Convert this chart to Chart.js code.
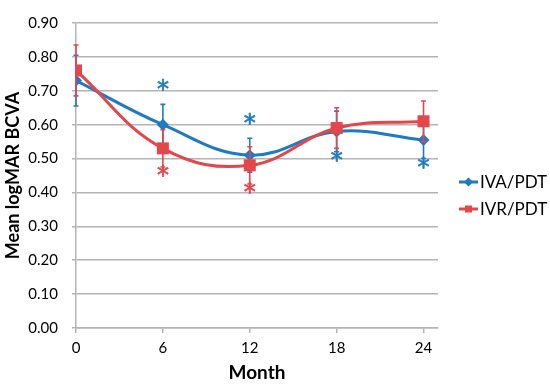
<!DOCTYPE html>
<html><head><meta charset="utf-8">
<script src="https://cdn.jsdelivr.net/npm/chart.js@4"></script>
<style>html,body{margin:0;padding:0;background:#fff}</style>
</head><body>
<canvas id="c" width="550" height="384"></canvas>
<script>
// ---- data ----
const months = [0, 6, 12, 18, 24];
const xTicks = [0, 6, 12, 18, 24];
const yTicks = [0, 0.1, 0.2, 0.3, 0.4, 0.5, 0.6, 0.7, 0.8, 0.9];
const ivaLabel = 'IVA/PDT';
const ivrLabel = 'IVR/PDT';
const ivaMean = [0.73, 0.60, 0.51, 0.58, 0.555];
const ivaErr  = [0.075, 0.06, 0.05, 0.06, 0.055];
const ivrMean = [0.76, 0.53, 0.48, 0.59, 0.61];
const ivrErr  = [0.075, 0.055, 0.055, 0.06, 0.06];
const ivaStar = ['', 'above', 'above', 'below', 'below'];
const ivrStar = ['', 'below', 'below', '', ''];

const BLUE = '#1e7bc1';
const RED = '#e2474b';
const GRID = '#b4b4b4';
const FONT = 'Lato';

const errs = [ivaErr, ivrErr];
const stars = [ivaStar, ivrStar];

const errorBars = {
  id: 'errorBars',
  beforeDatasetDraw(chart, args) {
    const i = args.index;
    const ds = chart.data.datasets[i];
    const x = chart.scales.x, y = chart.scales.y;
    const ctx = chart.ctx;
    ctx.save();
    ctx.strokeStyle = ds.borderColor;
    ctx.lineWidth = 1.6;
    ds.data.forEach((p, k) => {
      const e = errs[i][k];
      const px = x.getPixelForValue(p.x);
      const top = y.getPixelForValue(p.y + e);
      const bot = y.getPixelForValue(p.y - e);
      ctx.beginPath();
      ctx.moveTo(px, top); ctx.lineTo(px, bot);
      ctx.moveTo(px - 2.5, top); ctx.lineTo(px + 2.5, top);
      ctx.moveTo(px - 2.5, bot); ctx.lineTo(px + 2.5, bot);
      ctx.stroke();
    });
    ctx.restore();
  },
  afterDraw(chart) {
    const ctx = chart.ctx;
    const x = chart.scales.x, y = chart.scales.y;
    ctx.save();
    ctx.font = '24px "DejaVu Sans"';
    ctx.textAlign = 'center';
    ctx.textBaseline = 'alphabetic';
    const m = ctx.measureText('*');
    const mid = (m.actualBoundingBoxAscent - m.actualBoundingBoxDescent) / 2 - 8;
    chart.data.datasets.forEach((ds, i) => {
      ctx.fillStyle = ds.borderColor;
      ctx.strokeStyle = ds.borderColor;
      ctx.lineWidth = 0.7;
      ds.data.forEach((p, k) => {
        const s = stars[i][k];
        if (!s) return;
        const e = errs[i][k];
        const px = x.getPixelForValue(p.x);
        let cy;
        if (s === 'above') cy = y.getPixelForValue(p.y + e) - 11;
        else cy = y.getPixelForValue(p.y - e) + 12;
        ctx.fillText('*', px, cy + mid);
        ctx.strokeText('*', px, cy + mid);
      });
    });
    // legend
    ctx.font = '17px ' + FONT;
    ctx.textAlign = 'left';
    ctx.textBaseline = 'middle';
    const rows = [182, 209];
    chart.data.datasets.forEach((ds, i) => {
      const cy = rows[i];
      ctx.strokeStyle = ds.borderColor;
      ctx.lineWidth = 3;
      ctx.beginPath(); ctx.moveTo(459, cy); ctx.lineTo(478, cy); ctx.stroke();
      ctx.fillStyle = ds.borderColor;
      ctx.beginPath();
      if (ds.pointStyle === 'rect') ctx.rect(465, cy - 3.5, 7, 7);
      else { ctx.moveTo(468.5, cy - 4.5); ctx.lineTo(473, cy); ctx.lineTo(468.5, cy + 4.5); ctx.lineTo(464, cy); ctx.closePath(); }
      ctx.fill();
      ctx.fillStyle = '#000';
      ctx.fillText(ds.label, 480, cy + 1);
    });
    ctx.restore();
  }
};

const toPts = (vals) => months.map((m, k) => ({x: m, y: vals[k]}));

new Chart(document.getElementById('c'), {
  type: 'line',
  data: {
    datasets: [
      { label: ivaLabel, data: toPts(ivaMean), borderColor: BLUE, backgroundColor: BLUE,
        borderWidth: 3, tension: 0.4, pointStyle: 'rectRot', pointRadius: 6, pointBorderWidth: 0,
        order: 1 },
      { label: ivrLabel, data: toPts(ivrMean), borderColor: RED, backgroundColor: RED,
        borderWidth: 3, tension: 0.4, pointStyle: 'rect', pointRadius: 8.5, pointBorderWidth: 0,
        order: 0 }
    ]
  },
  options: {
    responsive: false,
    animation: false,
    devicePixelRatio: 1,
    layout: { padding: { left: 0, top: 12, right: 112, bottom: 0 } },
    plugins: { legend: { display: false }, tooltip: { enabled: false } },
    scales: {
      x: {
        type: 'linear', min: 0, max: 25,
        afterBuildTicks: (s) => { s.ticks = xTicks.map(v => ({value: v})); },
        afterFit: (s) => { s.height = 56; },
        grid: { display: true, drawOnChartArea: false, drawTicks: true, tickLength: 5, color: GRID, lineWidth: 1.5 },
        border: { color: GRID, width: 1.5 },
        ticks: { color: '#000', font: { family: FONT, size: 15 }, padding: 6, maxRotation: 0 },
        title: { display: true, text: 'Month', color: '#000', font: { family: FONT, size: 19, weight: 'bold' }, padding: { top: 0, bottom: 0 } }
      },
      y: {
        min: 0, max: 0.9,
        afterBuildTicks: (s) => { s.ticks = yTicks.map(v => ({value: v})); },
        afterFit: (s) => { s.width = 76; },
        grid: { color: GRID, lineWidth: 1.5, tickLength: 4 },
        border: { color: GRID, width: 1.5 },
        ticks: { color: '#000', font: { family: FONT, size: 15 }, padding: 14, callback: (v) => Number(v).toFixed(2) },
        title: { display: true, text: 'Mean logMAR BCVA', color: '#000', font: { family: FONT, size: 18, weight: 'bold' }, padding: { top: 2, bottom: 0 } }
      }
    }
  },
  plugins: [errorBars]
});
</script>
</body></html>
